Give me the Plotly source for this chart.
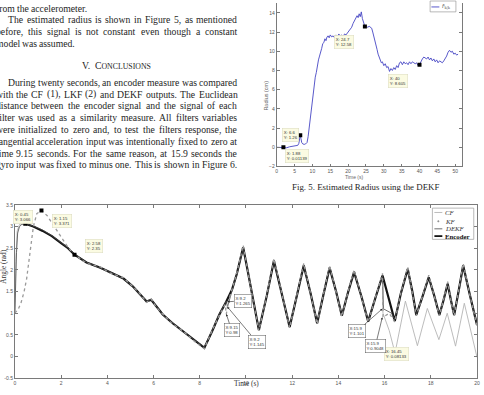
import plotly.graph_objects as go

W, H = 484, 395
def px(x): return x / W
def py(y): return 1 - y / H

# ---------------- Fig. 5 : estimated radius (DEKF) ----------------
rad_t = [0, 0.8, 1.88, 2.8, 3.6, 4.4, 5.2, 5.9, 6.2, 6.4, 6.6, 6.8, 7.0, 7.3, 7.7, 8.1, 8.5, 8.8, 9.0, 9.3,
         9.6, 9.9, 10.2, 10.5, 10.8, 11.1, 11.4, 11.7, 12.0, 12.3, 12.6, 12.9, 13.2, 13.5, 13.8, 14.1, 14.4, 14.7,
         15.0, 15.4, 15.8, 16.2, 16.6, 17.0, 17.4, 17.8, 18.2, 18.6, 19.0, 19.4, 19.8, 20.2, 20.6, 21.0, 21.4,
         21.8, 22.2, 22.5, 22.8, 23.1, 23.4, 23.7, 24.0, 24.3, 24.7, 25.1, 25.5, 25.9, 26.3, 26.6, 26.9, 27.2,
         27.5, 27.8, 28.1, 28.4, 28.7, 29.0, 29.3, 29.6, 30.0, 30.4, 30.8, 31.2, 31.6, 32.0, 32.4, 32.8, 33.2,
         33.6, 34.0, 34.4, 34.8, 35.2, 35.6, 36.0, 36.4, 36.8, 37.2, 37.6, 38.0, 38.4, 38.8, 39.2, 39.6, 40.0,
         40.4, 40.8, 41.2, 41.6, 42.0, 42.4, 42.8, 43.2, 43.6, 44.0, 44.4, 44.8, 45.2, 45.6, 46.0, 46.4, 46.8,
         47.2, 47.6, 48.0, 48.4, 48.8, 49.2, 49.6, 50.0, 50.4, 50.8]
rad_r = [0.0, 0.0, 0.011, -0.05, 0.05, 0.1, 0.15, 0.2, 0.4, 1.0, 1.26, 0.9, 0.5, 0.35, 0.3, 0.35, 0.5, 1.1, 1.7, 2.6,
         3.5, 4.6, 5.8, 6.6, 7.3, 7.8, 8.6, 9.1, 9.5, 10.1, 10.3, 10.8, 10.9, 11.3, 11.1, 11.5, 11.6, 11.4,
         11.7, 11.5, 11.6, 11.4, 11.7, 11.5, 11.8, 11.6, 11.7, 11.5, 11.8, 11.7, 11.9, 12.1, 12.4, 12.5, 12.9,
         13.2, 13.4, 13.7, 13.5, 13.9, 13.6, 14.1, 13.4, 13.0, 12.58, 12.6, 12.5, 12.6, 12.5, 12.4, 12.0, 11.6,
         11.2, 10.6, 10.2, 9.7, 9.4, 9.0, 8.8, 8.9, 8.5, 8.7, 8.3, 8.4, 7.9, 8.2, 8.0, 8.3, 8.1,
         8.5, 8.3, 8.8, 8.9, 8.6, 8.9, 8.7, 8.8, 8.6, 8.9, 8.7, 8.9, 8.8, 8.7, 8.8, 8.5, 8.605,
         9.0, 9.2, 9.4, 9.3, 9.2, 9.4, 9.1, 9.3, 9.0, 9.2, 8.9, 9.1, 8.8, 9.0, 8.9, 8.8, 9.0,
         9.2, 9.5, 9.9, 10.1, 9.9, 10.0, 9.7, 9.8, 9.6, 9.7]
rad_tip_t = [1.88, 6.6, 24.7, 40]
rad_tip_r = [0.01139, 1.26, 12.58, 8.605]
rad_xticks = list(range(0, 55, 5))
rad_yticks = list(range(-2, 16, 2))

# ---------------- Fig. 6 : angle estimates ----------------
enc_t = [0.45, 0.8, 1.2, 1.6, 2.0, 2.3, 2.58, 3.1, 3.7, 4.1, 4.7, 5.1, 5.4, 5.7, 5.9, 6.1, 6.4, 6.8, 7.3, 7.7, 8.2,
         8.55, 8.85, 9.15, 9.4, 9.6, 9.88, 10.05, 10.27, 10.56,
         10.9, 11.21, 11.55, 11.89, 12.2, 12.5, 12.8, 13.08, 13.35, 13.62, 13.9, 14.15, 14.4, 14.68, 15.0, 15.29, 15.6, 15.91,
         16.2, 16.44, 16.7, 17.0, 17.2, 17.37, 17.65, 17.91, 18.15, 18.37, 18.55, 18.73, 18.87, 19.01, 19.2, 19.4, 19.7, 20.0]
enc_y = [3.066, 3.0, 2.9, 2.78, 2.62, 2.5, 2.35, 2.17, 2.05, 1.95, 1.8, 1.62, 1.44, 1.27, 1.31, 1.17, 0.97, 0.78, 0.57, 0.4, 0.2,
         0.6, 0.97, 1.27, 1.55, 1.9, 2.52, 2.05, 1.42, 0.61,
         1.4, 2.21, 1.45, 0.68, 1.4, 2.10, 1.45, 0.77, 1.42, 2.05, 1.5, 0.94, 1.45, 1.95, 1.38, 0.81, 1.35, 1.87,
         1.3, 0.82, 1.45, 2.02, 1.5, 0.96, 1.4, 1.83, 1.4, 0.96, 1.3, 1.68, 1.3, 0.96, 1.5, 2.1, 1.4, 0.73]

dekf_t = [0, 0.03, 0.07, 0.12, 0.2, 0.3, 0.45, 0.8, 1.2, 1.6, 2.0, 2.3, 2.58, 3.1, 3.7, 4.1, 4.7, 5.1, 5.4, 5.7, 5.9, 6.1, 6.4, 6.8, 7.3, 7.7, 8.2,
          8.55, 8.85, 9.15, 9.2, 9.4, 9.6, 9.88, 10.05, 10.27, 10.56,
          10.9, 11.21, 11.55, 11.89, 12.2, 12.5, 12.8, 13.08, 13.35, 13.62, 13.9, 14.15, 14.4, 14.68, 15.0, 15.29, 15.6, 15.91,
          15.95, 16.1, 16.3, 16.44, 16.7, 17.0, 17.2, 17.37, 17.65, 17.91, 18.15, 18.37, 18.55, 18.73, 18.87, 19.01, 19.2, 19.4, 19.7, 20.0]
dekf_y = [1.0, 1.7, 2.4, 2.85, 3.0, 3.05, 3.066, 3.01, 2.92, 2.79, 2.63, 2.51, 2.36, 2.18, 2.04, 1.96, 1.79, 1.63, 1.43, 1.28, 1.32, 1.18, 0.96, 0.79, 0.56, 0.41, 0.22,
          0.61, 0.98, 1.28, 1.145, 1.52, 1.88, 2.5, 2.07, 1.43, 0.64,
          1.42, 2.23, 1.46, 0.7, 1.42, 2.12, 1.46, 0.79, 1.43, 2.07, 1.5, 0.95, 1.46, 1.97, 1.38, 0.83, 1.36, 1.86,
          1.101, 1.06, 1.0, 0.85, 1.46, 2.03, 1.5, 0.97, 1.41, 1.84, 1.4, 0.97, 1.31, 1.69, 1.31, 0.97, 1.5, 2.09, 1.4, 0.74]

kf_t = [0, 0.15, 0.26, 0.4, 0.51, 0.59, 0.7, 0.8, 0.95, 1.15, 1.4, 1.7, 2.0, 2.3, 2.58, 3.1, 3.7, 4.1, 4.7, 5.1, 5.4, 5.7, 5.9, 6.1, 6.4, 6.8, 7.3, 7.7, 8.2,
        8.55, 8.85, 9.1, 9.15, 9.25, 9.4, 9.6, 9.88, 10.05, 10.27, 10.56,
        10.9, 11.21, 11.55, 11.89, 12.2, 12.5, 12.8, 13.08, 13.35, 13.62, 13.9, 14.15, 14.4, 14.68, 15.0, 15.29, 15.6, 15.91,
        15.93, 16.2, 16.44, 16.7, 17.0, 17.2, 17.37, 17.65, 17.91, 18.15, 18.37, 18.55, 18.73, 18.87, 19.01, 19.2, 19.4, 19.7, 20.0]
kf_y = [1.0, 1.1, 1.23, 1.5, 1.8, 2.1, 2.6, 3.0, 3.3, 3.371, 3.25, 3.0, 2.75, 2.52, 2.35, 2.15, 2.07, 1.93, 1.82, 1.6, 1.46, 1.25, 1.33, 1.15, 0.99, 0.76, 0.58, 0.38, 0.18,
        0.62, 0.95, 1.2, 0.98, 1.3, 1.56, 1.92, 2.57, 2.03, 1.4, 0.6,
        1.41, 2.26, 1.44, 0.66, 1.41, 2.15, 1.44, 0.75, 1.43, 2.1, 1.49, 0.92, 1.46, 2.0, 1.37, 0.79, 1.36, 1.92,
        0.9048, 1.0, 0.8, 1.46, 2.07, 1.49, 0.94, 1.41, 1.88, 1.39, 0.94, 1.31, 1.73, 1.29, 0.94, 1.51, 2.15, 1.39, 0.71]

cf_head_t = [0, 0.04, 0.1, 0.2, 0.45]
cf_head_y = [1.0, 2.2, 2.9, 3.05, 3.066]
cf_tail_t = [15.93, 16.2, 16.45, 16.9, 17.42, 17.85, 18.35, 18.71, 19.07, 19.45, 20.0]
cf_tail_y = [1.0, 0.6, 0.08133, 1.28, 0.25, 1.11, 0.39, 1.0, 0.24, 1.23, -0.02]

tip6_t = [0.45, 1.15, 2.58, 16.45]
tip6_y = [3.066, 3.371, 2.35, 0.08133]
ang_xticks = list(range(0, 22, 2))
ang_yticks = [-0.5, 0, 0.5, 1, 1.5, 2, 2.5, 3, 3.5]
ang_yticklabels = ["-0.5", "0", "0.5", "1", "1.5", "2", "2.5", "3", "3.5"]

for a, b in [(rad_t, rad_r), (enc_t, enc_y), (dekf_t, dekf_y), (kf_t, kf_y), (cf_tail_t, cf_tail_y)]:
    assert len(a) == len(b), (len(a), len(b))

# CF follows the encoder until the gyro fault at 15.9 s
cf_t = cf_head_t + [t for t in enc_t if 0.45 < t <= 15.91] + cf_tail_t
cf_y = cf_head_y + [y for t, y in zip(enc_t, enc_y) if 0.45 < t <= 15.91] + cf_tail_y

fig = go.Figure()
# Fig 6 traces
fig.add_trace(go.Scatter(x=cf_t, y=cf_y, mode="lines", line=dict(color="#b4b4b4", width=0.9), xaxis="x", yaxis="y"))
fig.add_trace(go.Scatter(x=enc_t, y=enc_y, mode="lines", line=dict(color="#141414", width=2.2), xaxis="x", yaxis="y"))
fig.add_trace(go.Scatter(x=dekf_t, y=dekf_y, mode="lines", line=dict(color="#4a4a4a", width=0.8), xaxis="x", yaxis="y"))
fig.add_trace(go.Scatter(x=kf_t, y=kf_y, mode="lines", line=dict(color="#9a9a9a", width=1.3, dash="dot"), xaxis="x", yaxis="y"))
fig.add_trace(go.Scatter(x=tip6_t, y=tip6_y, mode="markers", marker=dict(symbol="square", size=4, color="black"), xaxis="x", yaxis="y"))
# Fig 5 traces
fig.add_trace(go.Scatter(x=rad_t, y=rad_r, mode="lines", line=dict(color="#4646c4", width=0.9), xaxis="x2", yaxis="y2"))
fig.add_trace(go.Scatter(x=rad_tip_t, y=rad_tip_r, mode="markers", marker=dict(symbol="square", size=4, color="black"), xaxis="x2", yaxis="y2"))

axcol = "#7a7a7a"
tickfont = dict(family="Liberation Sans", size=5, color="#555")
common = dict(showgrid=False, zeroline=False, showline=True, linecolor=axcol, linewidth=0.8,
              ticks="inside", ticklen=3, tickcolor=axcol, tickwidth=0.7, tickfont=tickfont)

fig.update_layout(
    width=W, height=H, margin=dict(l=0, r=0, t=0, b=0),
    paper_bgcolor="white", plot_bgcolor="white", showlegend=False,
    xaxis=dict(domain=[px(14), px(480)], range=[0, 20], anchor="y", tickvals=ang_xticks, mirror="ticks", **common),
    yaxis=dict(domain=[py(381), py(205)], range=[-0.5, 3.5], anchor="x", tickvals=ang_yticks,
               ticktext=ang_yticklabels, mirror="ticks", **common),
    xaxis2=dict(domain=[px(278), px(465.2)], range=[0, 52], anchor="y2", tickvals=rad_xticks, mirror=False, **common),
    yaxis2=dict(domain=[py(166), 1], range=[-2, 146.5 / 9.75], anchor="x2", tickvals=rad_yticks, mirror="ticks", **common),
)

ann = []
shapes = []

# ---------- justified body text ----------
TW = dict(a=.444, b=.5, c=.444, d=.5, e=.444, f=.333, g=.5, h=.5, i=.278, j=.278, k=.5, l=.278, m=.778, n=.5,
          o=.5, p=.5, q=.5, r=.333, s=.389, t=.278, u=.5, v=.5, w=.722, x=.5, y=.5, z=.444,
          A=.722, B=.667, C=.667, D=.722, E=.611, F=.556, G=.722, H=.722, I=.333, J=.389, K=.722, L=.611, M=.889,
          N=.722, O=.722, P=.556, Q=.722, R=.667, S=.556, T=.611, U=.722, V=.722, W=.944, X=.722, Y=.722, Z=.611)
TW.update({d: .5 for d in "0123456789"})
TW.update({" ": .25, ",": .25, ".": .25, "(": .333, ")": .333, "-": .333, ":": .278})
FS = 9.7
def tw(s, size=FS):
    return sum(TW.get(c, .5) for c in s) * size

XL, XR, INDENT = -5.5, 238.0, 12.8
body = [
    ("from the accelerometer.", 5.5, XL, False),
    ("The estimated radius is shown in Figure 5, as mentioned", 17, XL + INDENT, True),
    ("before, this signal is not constant even though a constant", 29, XL, True),
    ("model was assumed.", 41, XL, False),
    ("During twenty seconds, an encoder measure was compared", 80.5, XL + INDENT, True),
    ("with the CF (1), LKF (2) and DEKF outputs. The Euclidean", 92.5, XL, True),
    ("distance between the encoder signal and the signal of each", 104.5, XL, True),
    ("filter was used as a similarity measure. All filters variables", 116.5, XL, True),
    ("were initialized to zero and, to test the filters response, the", 128.5, XL, True),
    ("tangential acceleration input was intentionally fixed to zero at", 140.5, XL, True),
    ("time 9.15 seconds. For the same reason, at 15.9 seconds the", 152.5, XL, True),
    ("gyro input was fixed to minus one. This is shown in Figure 6.", 164, XL, True),
]
tcol = "#1e1e1e"
for text, yc, x0, just in body:
    words = text.split(" ")
    tot = sum(tw(w) for w in words)
    gap = (XR - x0 - tot) / (len(words) - 1) if just else tw(" ")
    if gap < tw(" ") * 0.6:
        gap = tw(" ") * 0.6
    x = x0
    for w in words:
        ann.append(dict(x=px(x), y=py(yc), xref="paper", yref="paper", xanchor="left", yanchor="middle",
                        text=w, showarrow=False, borderpad=0, borderwidth=0,
                        font=dict(family="Liberation Serif", size=FS, color=tcol)))
        x += tw(w) + gap

ann.append(dict(x=px(116), y=py(63.5), xref="paper", yref="paper", xanchor="center", yanchor="middle",
                text='V.  C<span style="font-size:7.8px">ONCLUSIONS</span>', showarrow=False,
                font=dict(family="Liberation Serif", size=FS, color=tcol)))

# caption of Fig. 5
ann.append(dict(x=px(368), y=py(187), xref="paper", yref="paper", xanchor="center", yanchor="middle",
                text="Fig. 5. Estimated Radius using the DEKF", showarrow=False,
                font=dict(family="Liberation Serif", size=8.9, color=tcol)))

# axis labels
ann.append(dict(x=px(367), y=py(177), xref="paper", yref="paper", text="Time (s)", showarrow=False,
                font=dict(family="Liberation Sans", size=5, color="#666")))
ann.append(dict(x=px(267), y=py(77), xref="paper", yref="paper", text="Radius (cm)", showarrow=False,
                textangle=-90, font=dict(family="Liberation Sans", size=5.5, color="#666")))
ann.append(dict(x=px(247.5), y=py(393), xref="paper", yref="paper", text="Time (s)", showarrow=False,
                font=dict(family="Liberation Serif", size=7.3, color="#333")))
ann.append(dict(x=px(-3.5), y=py(287), xref="paper", yref="paper", text="Angle (rad)", showarrow=False,
                textangle=-90, font=dict(family="Liberation Serif", size=7.3, color="#333")))

# yellow data tips
tipfont = dict(family="Liberation Sans", size=4.3, color="#333")
def datatip(cx, cy, txt):
    ann.append(dict(x=px(cx), y=py(cy), xref="paper", yref="paper", text=txt, showarrow=False, align="left",
                    bgcolor="#fbfbe2", bordercolor="#d8d8bc", borderwidth=0.5, borderpad=1.2, font=tipfont))
datatip(355.5, 33, "X: 24.7<br>Y: 12.58")
datatip(410, 72, "X: 40<br>Y: 8.605")
datatip(291.5, 127, "X: 6.6<br>Y: 1.26")
datatip(298.5, 155, "X: 1.88<br>Y: 0.01139")
datatip(12.5, 217.5, "X: 0.45<br>Y: 3.066")
datatip(51, 221, "X: 1.15<br>Y: 3.371")
datatip(84.5, 247, "X: 2.58<br>Y: 2.35")
datatip(411, 364, "X: 16.45<br>Y: 0.08133")

# white arrow boxes on Fig. 6
def xpx(t): return 14 + t * 23.3
def ypx(v): return 359 - v * 44
def arrowbox(cx, cy, t, v, txt):
    hx, hy = xpx(t), ypx(v)
    ann.append(dict(x=t, y=v, xref="x", yref="y", ax=cx - hx, ay=cy - hy, axref="pixel", ayref="pixel",
                    text=txt, showarrow=True, arrowhead=2, arrowsize=0.7, arrowwidth=0.6, arrowcolor="#222",
                    align="left", bgcolor="white", bordercolor="#555", borderwidth=0.5, borderpad=1, font=tipfont))
arrowbox(243.5, 302.5, 9.2, 1.265, "X:9.2<br>Y:1.265")
arrowbox(232.5, 332, 9.15, 0.98, "X:9.15<br>Y:0.98")
arrowbox(257.5, 343.5, 9.2, 1.145, "X:9.2<br>Y:1.145")
arrowbox(359, 333, 15.9, 1.101, "X:15.9<br>Y:1.101")
arrowbox(377.5, 348, 15.9, 0.9048, "X:15.9<br>Y:0.9048")

# ---------- legends (drawn by hand, MATLAB style) ----------
def rect(x0, y0, x1, y1):
    shapes.append(dict(type="rect", xref="paper", yref="paper", x0=px(x0), x1=px(x1), y0=py(y0), y1=py(y1),
                       line=dict(color="#8a8a8a", width=0.6), fillcolor="white", layer="above"))
def hline(x0, x1, y, color, width):
    shapes.append(dict(type="line", xref="paper", yref="paper", x0=px(x0), x1=px(x1), y0=py(y), y1=py(y),
                       line=dict(color=color, width=width), layer="above"))
def ltext(x, y, txt, size=6.8, color="#333"):
    ann.append(dict(x=px(x), y=py(y), xref="paper", yref="paper", xanchor="left", yanchor="middle", text=txt,
                    showarrow=False, borderpad=0, font=dict(family="Liberation Serif", size=size, color=color)))

rect(432.7, -2, 458.7, 9)
hline(434, 442, 4, "#4646c4", 0.9)
ltext(444, 3.5, "<i>r̂</i><sub>k|k</sub>", size=6.5, color="#555")

rect(435, 208.3, 476.7, 240)
hline(437, 445, 212.7, "#b4b4b4", 0.9)
ltext(446.5, 212.7, "<i>CF</i>")
shapes.append(dict(type="circle", xref="paper", yref="paper", x0=px(440.2), x1=px(441.8), y0=py(222.5), y1=py(220.9),
                   line=dict(color="#8a8a8a", width=0.4), fillcolor="#8a8a8a", layer="above"))
ltext(446.5, 221.5, "<i>KF</i>")
hline(437, 445, 229.3, "#4a4a4a", 0.8)
ltext(446.5, 229.3, "<i>DEKF</i>")
hline(437, 445, 236.7, "#141414", 1.8)
ltext(446.5, 236.7, "<b>Encoder</b>", color="#111")

fig.update_layout(annotations=ann, shapes=shapes)
fig.write_html("out.html")
